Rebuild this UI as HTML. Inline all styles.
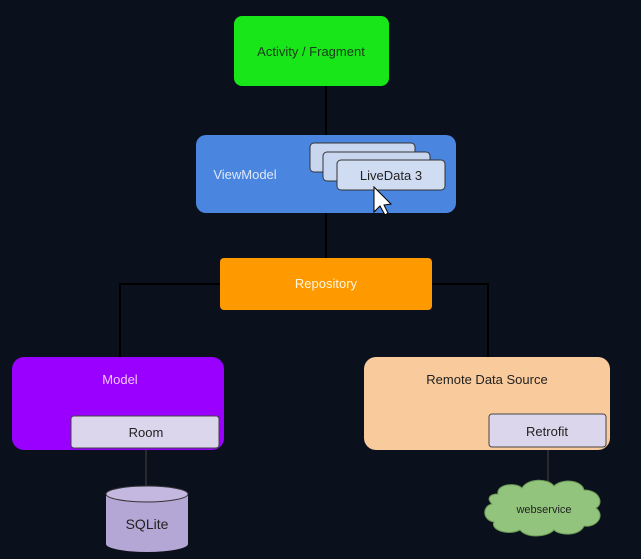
<!DOCTYPE html>
<html><head><meta charset="utf-8"><style>
html,body{margin:0;padding:0;background:#0b111c;}
svg{display:block;}
text{font-family:"Liberation Sans",sans-serif;}
</style></head><body>
<svg width="641" height="559" viewBox="0 0 641 559" xmlns="http://www.w3.org/2000/svg">
<rect width="641" height="559" fill="#0b111c"/>
<g stroke="#000" stroke-width="2" fill="none">
<line x1="326" y1="86" x2="326" y2="135"/>
<line x1="326" y1="213" x2="326" y2="258"/>
<polyline points="220,284 120,284 120,357"/>
<polyline points="432,284 488,284 488,357"/>
</g>
<g stroke="#333" stroke-width="1.5">
<line x1="146" y1="448" x2="146" y2="487"/>
<line x1="548" y1="447" x2="548" y2="488"/>
</g>
<rect x="234" y="16" width="155" height="70" rx="8" fill="#19e619"/>
<text x="311" y="56" font-size="13" text-anchor="middle" fill="#1a3a1a">Activity / Fragment</text>
<rect x="196" y="135" width="260" height="78" rx="10" fill="#4a86e0"/>
<text x="245" y="179" font-size="13" text-anchor="middle" fill="#dfe8f8">ViewModel</text>
<rect x="310" y="143" width="105" height="29" rx="4" fill="#c9d6f0" stroke="#333" stroke-width="1"/>
<rect x="323" y="152" width="107" height="29" rx="4" fill="#c9d6f0" stroke="#333" stroke-width="1"/>
<rect x="337" y="160" width="108" height="30" rx="4" fill="#d0dcf2" stroke="#333" stroke-width="1"/>
<text x="391" y="180" font-size="13" text-anchor="middle" fill="#222">LiveData 3</text>
<path d="M374 187 L374 212 L380 206 L385 215 L388 213 L384 205 L391 204 Z" fill="#fff" stroke="#000" stroke-width="1"/>
<rect x="220" y="258" width="212" height="52" rx="4" fill="#ff9900"/>
<text x="326" y="288" font-size="13" text-anchor="middle" fill="#fff6e0">Repository</text>
<rect x="12" y="357" width="212" height="93" rx="12" fill="#9900ff"/>
<text x="120" y="384" font-size="13" text-anchor="middle" fill="#f0c8ff">Model</text>
<rect x="71" y="416" width="148" height="32" rx="3" fill="#dcd6ec" stroke="#444" stroke-width="1"/>
<text x="146" y="437" font-size="13" text-anchor="middle" fill="#222">Room</text>
<rect x="364" y="357" width="246" height="93" rx="12" fill="#f9cb9c"/>
<text x="487" y="384" font-size="13" text-anchor="middle" fill="#222">Remote Data Source</text>
<rect x="489" y="414" width="117" height="33" rx="3" fill="#dcd6ec" stroke="#444" stroke-width="1"/>
<text x="547" y="436" font-size="13" text-anchor="middle" fill="#222">Retrofit</text>
<path d="M106 494 L106 544 A41 8 0 0 0 188 544 L188 494 Z" fill="#b4a7d6"/>
<ellipse cx="147" cy="494" rx="41" ry="8" fill="#c4b8e0" stroke="#333" stroke-width="1"/>
<text x="147" y="529" font-size="14" text-anchor="middle" fill="#222">SQLite</text>
<path d="M498 494 C496 484 516 482 522 488 C528 478 548 478 554 486 C562 478 582 480 584 490 C600 490 604 504 596 508 C606 516 596 528 584 526 C580 536 560 536 554 530 C546 538 526 538 520 530 C508 536 490 530 494 522 C482 520 482 506 492 504 C486 498 490 494 498 494 Z" fill="#93c47d" stroke="#6a9a55" stroke-width="1"/>
<text x="544" y="513" font-size="11" text-anchor="middle" fill="#222">webservice</text>
</svg>
</body></html>
